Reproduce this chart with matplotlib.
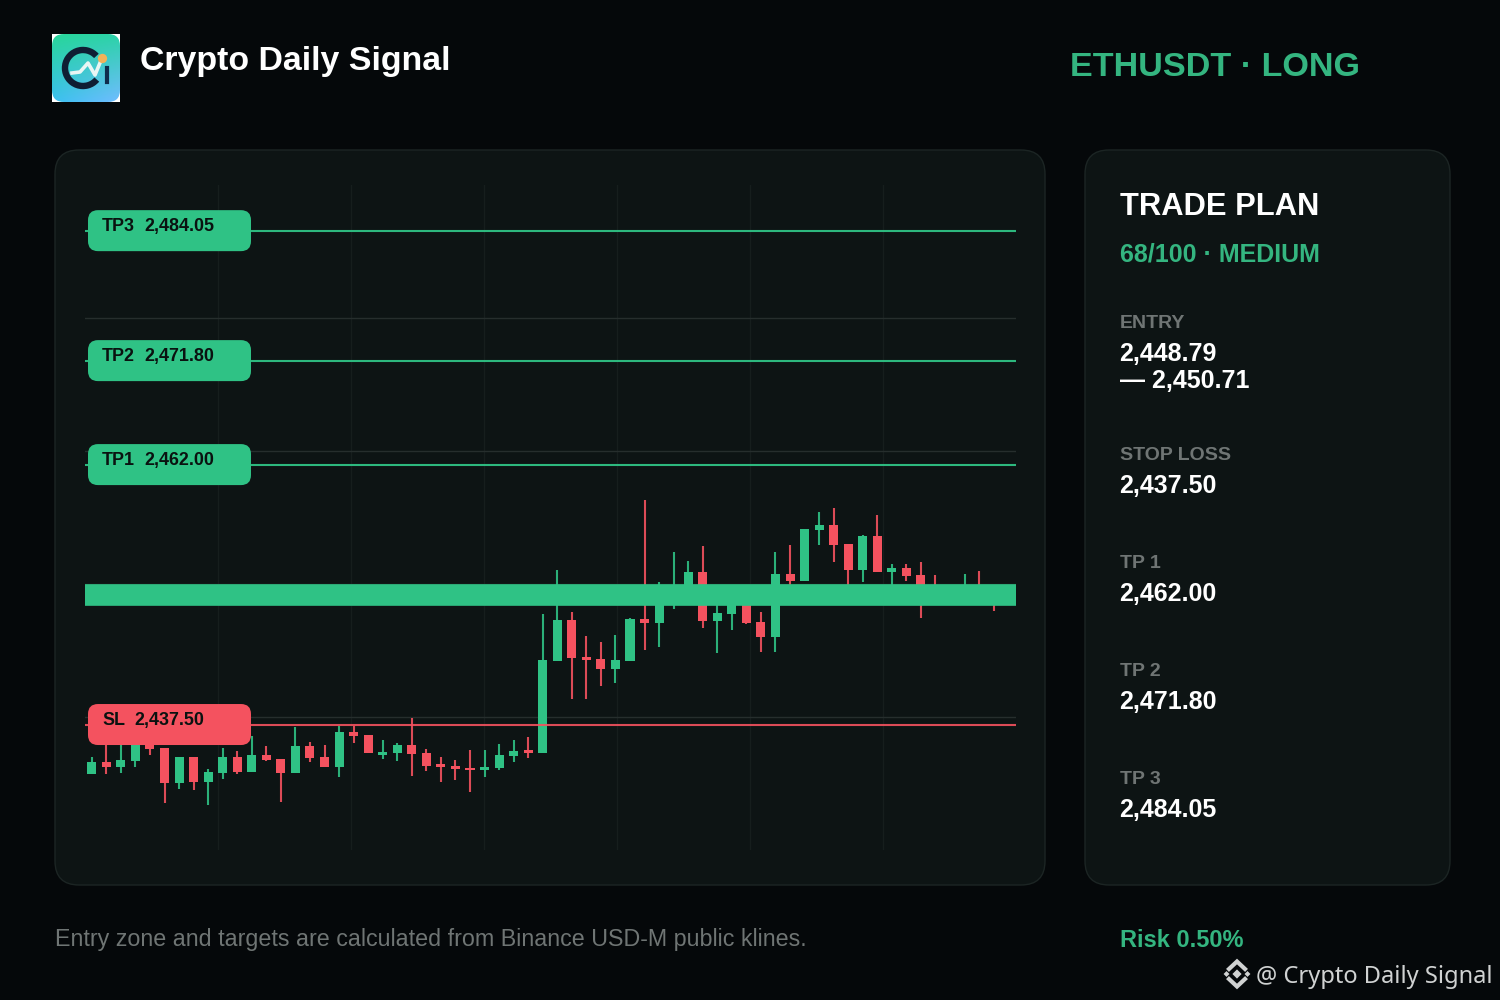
import numpy as np
from matplotlib import pyplot as plt
from matplotlib.patches import FancyBboxPatch, Rectangle
from matplotlib.patches import Arc

symbol = 'ETHUSDT · LONG'
tp1, tp2, tp3 = 2462.00, 2471.80, 2484.05
stop_loss = 2437.50
entry_low, entry_high = 2448.79, 2450.71
price_min, price_max = 2425.72, 2488.40

opens = [2432.85, 2434.01, 2433.54, 2434.11, 2436.56, 2435.30, 2432.06, 2434.46,
         2432.16, 2433.00, 2434.46, 2433.10, 2434.67, 2434.30, 2433.00, 2435.52,
         2434.46, 2433.54, 2436.84, 2436.59, 2434.64, 2434.89, 2435.61, 2434.83,
         2433.80, 2433.64, 2433.45, 2433.26, 2433.42, 2434.58, 2435.14, 2434.83,
         2443.56, 2447.40, 2443.91, 2443.69, 2442.81, 2443.56, 2447.46, 2447.14,
         2449.28, 2449.28, 2451.92, 2447.33, 2447.96, 2449.28, 2447.21, 2445.82,
         2451.73, 2451.07, 2455.88, 2456.35, 2454.56, 2452.11, 2455.31, 2451.92,
         2452.30, 2451.64, 2450.41, 2449.47, 2449.66, 2450.41, 2450.22, 2449.47]
closes = [2433.98, 2433.54, 2434.20, 2435.80, 2435.24, 2432.06, 2434.46, 2432.16,
          2433.04, 2434.46, 2433.04, 2434.64, 2434.17, 2433.00, 2435.52, 2434.36,
          2433.54, 2436.84, 2436.49, 2434.86, 2434.96, 2435.61, 2434.80, 2433.64,
          2433.54, 2433.38, 2433.26, 2433.51, 2434.64, 2435.02, 2434.89, 2443.63,
          2447.40, 2443.84, 2443.63, 2442.81, 2443.60, 2447.49, 2447.14, 2449.28,
          2450.22, 2451.92, 2447.33, 2448.03, 2449.28, 2447.11, 2445.79, 2451.73,
          2451.07, 2455.97, 2456.35, 2454.47, 2452.11, 2455.31, 2451.92, 2452.30,
          2451.54, 2450.22, 2450.04, 2450.22, 2450.22, 2449.66, 2449.28, 2450.04]
highs = [2434.51, 2436.09, 2435.61, 2436.27, 2437.03, 2435.33, 2434.48, 2434.48,
         2433.32, 2435.30, 2435.05, 2436.46, 2435.55, 2434.30, 2437.28, 2435.87,
         2435.61, 2437.41, 2437.41, 2436.59, 2436.06, 2435.80, 2438.16, 2435.21,
         2434.46, 2434.20, 2435.14, 2435.14, 2435.71, 2436.06, 2436.34, 2447.96,
         2452.11, 2448.15, 2445.89, 2445.32, 2445.98, 2447.58, 2458.71, 2450.98,
         2453.81, 2452.96, 2454.37, 2449.28, 2449.75, 2449.75, 2448.15, 2453.81,
         2454.47, 2455.97, 2457.58, 2457.95, 2454.56, 2455.41, 2457.29, 2452.67,
         2452.67, 2452.86, 2451.64, 2450.51, 2451.73, 2452.01, 2450.60, 2450.41]
lows = [2432.85, 2432.85, 2433.00, 2433.54, 2434.67, 2430.12, 2431.47, 2431.37,
        2429.96, 2432.41, 2432.88, 2433.10, 2434.11, 2430.21, 2433.00, 2434.04,
        2433.54, 2432.57, 2435.83, 2434.86, 2434.30, 2434.11, 2432.69, 2433.16,
        2432.10, 2432.32, 2431.21, 2432.60, 2433.26, 2434.04, 2434.42, 2434.83,
        2443.56, 2439.95, 2439.95, 2441.18, 2441.43, 2443.56, 2444.57, 2444.88,
        2448.46, 2448.81, 2446.64, 2444.29, 2446.45, 2447.02, 2444.38, 2444.38,
        2450.41, 2451.07, 2454.47, 2452.86, 2450.22, 2450.98, 2451.92, 2450.22,
        2451.07, 2447.58, 2449.75, 2449.28, 2449.28, 2449.28, 2448.24, 2449.09]

plan_rows = [('ENTRY', ['2,448.79', '— 2,450.71']),
             ('STOP LOSS', ['2,437.50']),
             ('TP 1', ['2,462.00']),
             ('TP 2', ['2,471.80']),
             ('TP 3', ['2,484.05'])]
plan_rows_y = [328, 460, 568, 676, 784]

BG = '#05080a'
PANEL = '#0d1414'
EDGE = '#1c2524'
GREEN = '#2fc285'
TEXT_GREEN = '#34b580'
RED = '#f4525f'

plt.rcParams['font.family'] = ['Liberation Sans', 'DejaVu Sans']

fig = plt.figure(figsize=(15, 10), dpi=100, facecolor=BG)

# 背景层,像素坐标
bg = fig.add_axes([0, 0, 1, 1])
bg.set_xlim(0, 1500)
bg.set_ylim(1000, 0)
bg.axis('off')

for x0, x1 in [(55, 1045), (1085, 1450)]:
    bg.add_patch(FancyBboxPatch((x0 + 24, 150 + 24), x1 - x0 - 48, 735 - 48,
                                boxstyle='round,pad=24,rounding_size=24',
                                fc=PANEL, ec=EDGE, lw=1))

# K线图
ax = fig.add_axes([84.5 / 1500, 1 - 850 / 1000, 931 / 1500, 665 / 1000])
ax.patch.set_alpha(0)
xs = np.arange(len(opens))
ax.set_xlim(-0.5, len(opens) - 0.5)
ax.set_ylim(price_min, price_max)
ax.set_xticks(np.linspace(-0.5, len(opens) - 0.5, 8)[1:-1])
ax.set_yticks(np.linspace(price_min, price_max, 6)[1:-1])
ax.tick_params(length=0, labelbottom=False, labelleft=False)
ax.grid(axis='x', color='#161e1d', lw=1)
ax.grid(axis='y', color='#262e2d', lw=1)
ax.set_axisbelow(True)
for s in ax.spines.values():
    s.set_visible(False)

colors = [GREEN if c >= o else RED for o, c in zip(opens, closes)]
ax.vlines(xs, lows, highs, colors=colors, lw=1.5, alpha=0.9, zorder=2)
bottoms = np.minimum(opens, closes)
heights = np.abs(np.array(closes) - np.array(opens))
ax.bar(xs, heights, bottom=bottoms, width=0.62, color=colors, zorder=3)

ax.axhspan(entry_low, entry_high, fc=GREEN, ec=GREEN, lw=1.2, zorder=4)
for price in [tp1, tp2, tp3]:
    ax.axhline(price, color=GREEN, lw=1.5, alpha=0.95, zorder=5)
ax.axhline(stop_loss, color=RED, lw=1.5, alpha=0.9, zorder=5)

# 上层:标签、文字、图标
top = fig.add_axes([0, 0, 1, 1])
top.set_xlim(0, 1500)
top.set_ylim(1000, 0)
top.axis('off')
top.patch.set_alpha(0)


def price_to_px(price):
    return 1000 - ax.transData.transform((0, price))[1]


def pill(price, label, value, color, gap):
    y = price_to_px(price)
    top.add_patch(FancyBboxPatch((98, y - 11), 143, 21,
                                 boxstyle='round,pad=10,rounding_size=10',
                                 fc=color, ec='none'))
    top.text(102, y, label, color='#0a1210', fontsize=12.9, fontweight='bold', va='baseline')
    top.text(gap, y, value, color='#0a1210', fontsize=12.9, fontweight='bold', va='baseline')


pill(tp3, 'TP3', '2,484.05', GREEN, 144.5)
pill(tp2, 'TP2', '2,471.80', GREEN, 144.5)
pill(tp1, 'TP1', '2,462.00', GREEN, 144.5)
pill(stop_loss, 'SL', '2,437.50', RED, 134.5)

top.text(140, 70, 'Crypto Daily Signal', color='white', fontsize=24.4, fontweight='bold')
top.text(1070, 76, symbol, color=TEXT_GREEN, fontsize=24.6, fontweight='bold')

top.text(1120, 215, 'TRADE PLAN', color='white', fontsize=22.2, fontweight='bold')
top.text(1120, 261, '68/100 · MEDIUM', color=TEXT_GREEN, fontsize=18, fontweight='bold')

for (name, values), y in zip(plan_rows, plan_rows_y):
    top.text(1120, y, name, color='#6f7574', fontsize=14, fontweight='bold')
    for k, v in enumerate(values):
        top.text(1119.5, y + 33 + 27 * k, v, color='white', fontsize=18, fontweight='bold')

top.text(55, 946, 'Entry zone and targets are calculated from Binance USD-M public klines.',
         color='#6f7574', fontsize=16.73)
top.text(1120, 947, 'Risk 0.50%', color=TEXT_GREEN, fontsize=17, fontweight='bold')
top.text(1256, 983, '@ Crypto Daily Signal', color='#d0d2d2', fontsize=17.05,
         family=['Noto Sans', 'DejaVu Sans'])

# 水印图标
wm = '#d0d2d2'
top.scatter([1237, 1226.5, 1247.5], [974, 974, 974], marker='D', s=[22, 9, 9], color=wm, lw=0)
top.plot([1229, 1237, 1245], [969, 961.5, 969], color=wm, lw=3, solid_joinstyle='miter')
top.plot([1229, 1237, 1245], [979, 986.5, 979], color=wm, lw=3, solid_joinstyle='miter')

# logo
top.add_patch(Rectangle((52, 34), 68, 68, fc='white', ec='none', zorder=1))
gy, gx = np.mgrid[0:1:64j, 0:1:64j]
t = gy * 0.85 + gx * 0.15
grad = np.dstack([0.16 + 0.08 * t + 0.2 * gx * gy,
                  0.84 - 0.10 * t,
                  0.60 + 0.40 * t])
im = top.imshow(np.clip(grad, 0, 1), extent=(52, 120, 102, 34), aspect='auto', zorder=2)
clip = FancyBboxPatch((64, 46), 44, 44, boxstyle='round,pad=12,rounding_size=12',
                      fc='none', ec='none', transform=top.transData)
top.add_patch(clip)
im.set_clip_path(clip)
top.set_xlim(0, 1500)
top.set_ylim(1000, 0)
top.add_patch(Arc((83, 68), 36, 36, theta1=40, theta2=318, color='#0f1e33', lw=4.6, zorder=3))
top.plot([72, 80, 88, 95, 102], [73, 72, 63, 75, 58], color='#e8f6f4', lw=2.6, zorder=4)
top.scatter([102], [58], s=45, color='#f2b25a', lw=0, zorder=5)
top.plot([107, 107], [68, 82], color='#0f2c4c', lw=3, zorder=4)

fig.savefig('out.png', dpi=100, facecolor=BG)
